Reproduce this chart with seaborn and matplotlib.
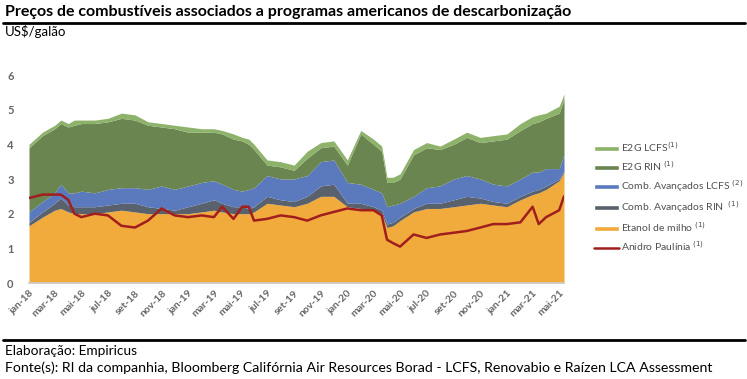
import matplotlib
matplotlib.use("Agg")
import matplotlib.pyplot as plt
import matplotlib.dates as mdates
from matplotlib.lines import Line2D
from matplotlib.patches import Patch
import seaborn as sns
import pandas as pd
import numpy as np

# Dates of the readings
dates = ["2018-01-01", "2018-02-01", "2018-03-01", "2018-03-15", "2018-04-01", "2018-04-15",
         "2018-05-01", "2018-06-01", "2018-07-01", "2018-08-01", "2018-09-01", "2018-10-01",
         "2018-11-01", "2018-12-01", "2019-01-01", "2019-02-01", "2019-03-01", "2019-03-20",
         "2019-04-15", "2019-05-05", "2019-05-20", "2019-06-01", "2019-07-01", "2019-08-01",
         "2019-09-01", "2019-10-01", "2019-11-01", "2019-12-01", "2020-01-01", "2020-02-01",
         "2020-03-01", "2020-03-20", "2020-04-01", "2020-04-15", "2020-05-01", "2020-06-01",
         "2020-07-01", "2020-08-01", "2020-09-01", "2020-10-01", "2020-11-01", "2020-12-01",
         "2021-01-01", "2021-02-01", "2021-03-01", "2021-03-15", "2021-04-01", "2021-05-01",
         "2021-05-12"]

# Stacked series (US$/gal)
etanol_milho = [1.65, 1.90, 2.10, 2.15, 2.05, 2.00, 2.00, 2.00, 2.05, 2.10, 2.05, 2.00,
                2.00, 2.00, 2.00, 2.05, 2.10, 2.05, 2.00, 2.00, 2.00, 2.05, 2.30, 2.25,
                2.20, 2.30, 2.50, 2.50, 2.20, 2.15, 2.10, 2.00, 1.60, 1.65, 1.80, 2.05,
                2.15, 2.15, 2.20, 2.25, 2.30, 2.25, 2.20, 2.40, 2.55, 2.60, 2.70, 2.95,
                3.20]
comb_av_rin = [0.10, 0.15, 0.20, 0.30, 0.20, 0.20, 0.20, 0.20, 0.20, 0.20, 0.25, 0.20,
               0.15, 0.10, 0.20, 0.25, 0.30, 0.25, 0.20, 0.20, 0.15, 0.15, 0.20, 0.15,
               0.15, 0.20, 0.30, 0.35, 0.10, 0.15, 0.10, 0.10, 0.10, 0.10, 0.10, 0.10,
               0.15, 0.15, 0.20, 0.25, 0.15, 0.10, 0.10, 0.10, 0.10, 0.10, 0.10, 0.05,
               0.05]
comb_av_lcfs = [0.30, 0.30, 0.30, 0.40, 0.35, 0.40, 0.45, 0.40, 0.45, 0.45, 0.45, 0.50,
                0.65, 0.60, 0.60, 0.60, 0.55, 0.55, 0.50, 0.45, 0.55, 0.55, 0.60, 0.60,
                0.65, 0.60, 0.70, 0.70, 0.60, 0.55, 0.50, 0.50, 0.50, 0.50, 0.40, 0.35,
                0.45, 0.50, 0.60, 0.60, 0.55, 0.50, 0.50, 0.50, 0.55, 0.50, 0.50, 0.30,
                0.45]
e2g_rin = [1.85, 1.90, 1.85, 1.75, 1.90, 1.95, 1.95, 2.00, 1.95, 2.00, 1.95, 1.85,
           1.70, 1.75, 1.55, 1.45, 1.40, 1.45, 1.45, 1.45, 1.30, 1.10, 0.30, 0.35,
           0.25, 0.50, 0.40, 0.40, 0.50, 1.45, 1.30, 1.20, 0.70, 0.65, 0.70, 1.20,
           1.15, 1.05, 1.00, 1.10, 1.05, 1.25, 1.35, 1.40, 1.40, 1.45, 1.45, 1.60,
           1.60]
e2g_lcfs = [0.10, 0.10, 0.10, 0.10, 0.10, 0.15, 0.10, 0.10, 0.10, 0.15, 0.15, 0.10,
            0.10, 0.10, 0.15, 0.10, 0.10, 0.10, 0.15, 0.10, 0.15, 0.15, 0.15, 0.15,
            0.15, 0.20, 0.15, 0.15, 0.15, 0.10, 0.15, 0.15, 0.15, 0.15, 0.15, 0.15,
            0.15, 0.10, 0.15, 0.15, 0.15, 0.15, 0.15, 0.20, 0.20, 0.20, 0.15, 0.20,
            0.15]
# Line series
anidro_paulinia = [2.45, 2.55, 2.55, 2.55, 2.40, 2.00, 1.90, 2.00, 1.95, 1.65, 1.60, 1.80,
                   2.15, 1.95, 1.90, 1.95, 1.90, 2.20, 1.85, 2.20, 2.20, 1.80, 1.85, 1.95,
                   1.90, 1.80, 1.95, 2.05, 2.15, 2.10, 2.10, 1.95, 1.25, 1.15, 1.05, 1.40,
                   1.30, 1.40, 1.45, 1.50, 1.60, 1.70, 1.70, 1.75, 2.20, 1.70, 1.90, 2.10,
                   2.50]

labels = ["Etanol de milho$^{\\ (1)}$", "Comb. Avançados RIN$^{\\ \\ (1)}$",
          "Comb. Avançados LCFS$^{\\ (2)}$", "E2G RIN$^{\\ (1)}$", "E2G LCFS$^{(1)}$",
          "Anidro Paulínia$^{\\ (1)}$"]
colors = ["#F1AA3C", "#59616C", "#5B79BD", "#6A8550", "#8DB26A", "#A11E1E"]

df = pd.DataFrame({
    "data": pd.to_datetime(dates),
    "etanol": etanol_milho,
    "av_rin": comb_av_rin,
    "av_lcfs": comb_av_lcfs,
    "e2g_rin": e2g_rin,
    "e2g_lcfs": e2g_lcfs,
    "anidro": anidro_paulinia,
})

sns.set_theme(style="white")
plt.rcParams["font.family"] = ["Lato", "DejaVu Sans"]

fig = plt.figure(figsize=(7.47, 3.79), dpi=100)
ax = fig.add_axes([29 / 747, 96 / 379, 535 / 747, 208 / 379])

stack_cols = ["etanol", "av_rin", "av_lcfs", "e2g_rin", "e2g_lcfs"]
ax.stackplot(df["data"], *[df[c] for c in stack_cols], colors=colors[:5], linewidth=0)
sns.lineplot(data=df, x="data", y="anidro", ax=ax, color=colors[5], linewidth=1.8)

ax.set_xlim(df["data"].iloc[0], df["data"].iloc[-1])
ax.set_ylim(0, 6)
ax.set_xlabel("")
ax.set_ylabel("")
ax.set_yticks(range(0, 7))
ax.xaxis.set_major_locator(mdates.MonthLocator(bymonth=[1, 3, 5, 7, 9, 11]))
month_pt = {1: "jan", 3: "mar", 5: "mai", 7: "jul", 9: "set", 11: "nov"}
ax.xaxis.set_major_formatter(plt.FuncFormatter(
    lambda v, p: f"{month_pt[mdates.num2date(v).month]}-{mdates.num2date(v).strftime('%y')}"))
for lbl in ax.get_xticklabels():
    lbl.set_rotation(45)
    lbl.set_ha("right")
    lbl.set_rotation_mode("anchor")
ax.tick_params(axis="x", labelsize=7.5, colors="#666666", length=0, pad=4)
ax.tick_params(axis="y", labelsize=8, colors="#666666", length=0, pad=11)
for lbl in ax.get_xticklabels() + ax.get_yticklabels():
    lbl.set_fontweight("bold")
sns.despine(ax=ax, left=True, top=True, right=True)
ax.spines["bottom"].set_color("#cccccc")
ax.grid(False)

# Legend, top entry first
handles = [Patch(facecolor=colors[i]) for i in [4, 3, 2, 1, 0]]
handles.append(Line2D([0], [0], color=colors[5], linewidth=1.8))
leg_labels = [labels[i] for i in [4, 3, 2, 1, 0]] + [labels[5]]
fig.legend(handles, leg_labels, loc="upper left", bbox_to_anchor=(585 / 747, 1 - 131 / 379),
           frameon=False, fontsize=7.5, labelcolor="#505050", handlelength=2.4,
           handleheight=0.5, handletextpad=0.15, labelspacing=0.5)

# Header and footer
fig.text(5 / 747, 1 - 12 / 379, "Preços de combustíveis associados a programas americanos de descarbonização",
         fontsize=11.5, fontweight="bold", va="center", ha="left", color="black")
fig.add_artist(Line2D([3 / 747, 745 / 747], [1 - 23 / 379, 1 - 23 / 379], color="black", linewidth=2))
fig.text(5 / 747, 1 - 32 / 379, "US$/galão", fontsize=9.5, va="center", ha="left", color="black")
fig.add_artist(Line2D([3 / 747, 745 / 747], [1 - 340 / 379, 1 - 340 / 379], color="black", linewidth=2))
fig.text(5 / 747, 1 - 351 / 379, "Elaboração: Empiricus", fontsize=9.8, va="center", ha="left", color="black")
fig.text(5 / 747, 1 - 368 / 379,
         "Fonte(s): RI da companhia, Bloomberg Califórnia Air Resources Borad - LCFS, Renovabio e Raízen LCA Assessment",
         fontsize=10.2, va="center", ha="left", color="black")

fig.savefig("out.png", dpi=100)
